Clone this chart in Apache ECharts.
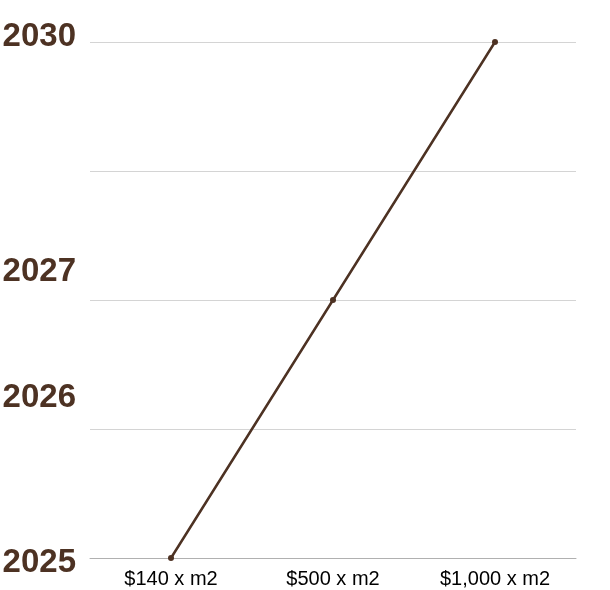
<!DOCTYPE html>
<html>
<head>
<meta charset="utf-8">
<script src="https://cdn.jsdelivr.net/npm/echarts@6/dist/echarts.min.js"></script>
<style>html,body{margin:0;padding:0;background:#fff}#c{width:610px;height:590px}</style>
</head>
<body>
<div id="c"></div>
<script>
var categories = ['$140 x m2', '$500 x m2', '$1,000 x m2'];
var yearLabels = ['2025', '2026', '2027', '', '2030'];
var values = [0, 2, 4];
var labelShift = ['down4', 'up32', 'up29', 'none', 'up6'];

var chart = echarts.init(document.getElementById('c'));
var brown = '#4d3223';
chart.setOption({
  animation: false,
  grid: { left: 90, right: 34, top: 42, bottom: 32, containLabel: false, outerBoundsMode: 'none' },
  xAxis: {
    type: 'category',
    data: categories,
    boundaryGap: true,
    axisLine: { show: true, lineStyle: { color: '#b0b0b0', width: 1 } },
    axisTick: { show: false },
    axisLabel: { color: '#000', fontSize: 20, fontFamily: 'Liberation Sans, Arial, Helvetica, sans-serif', margin: 11 }
  },
  yAxis: {
    type: 'value',
    min: 0, max: 4, interval: 1,
    axisLine: { show: false },
    axisTick: { show: false },
    splitLine: { lineStyle: { color: '#d4d4d4', width: 1 } },
    axisLabel: {
      margin: 14,
      formatter: function (v) {
        var t = yearLabels[v];
        if (!t) return '';
        return '{' + labelShift[v] + '|' + t + '}';
      },
      rich: (function () {
        var base = { color: brown, fontSize: 33, fontWeight: 'bold', fontFamily: 'Liberation Sans, Arial, Helvetica, sans-serif', lineHeight: 36 };
        function mk(p) { return Object.assign({}, base, { padding: p }); }
        return {
          down4: mk([10, 0, 0, 0]),
          up32: mk([2, 0, 64, 0]),
          up29: mk([2, 0, 58, 0]),
          up6: mk([2, 0, 12, 0]),
          none: mk([0, 0, 0, 0])
        };
      })()
    }
  },
  series: [{
    type: 'line',
    data: values,
    symbol: 'circle',
    symbolSize: 6,
    lineStyle: { color: brown, width: 2.5 },
    itemStyle: { color: brown }
  }]
});
</script>
</body>
</html>
